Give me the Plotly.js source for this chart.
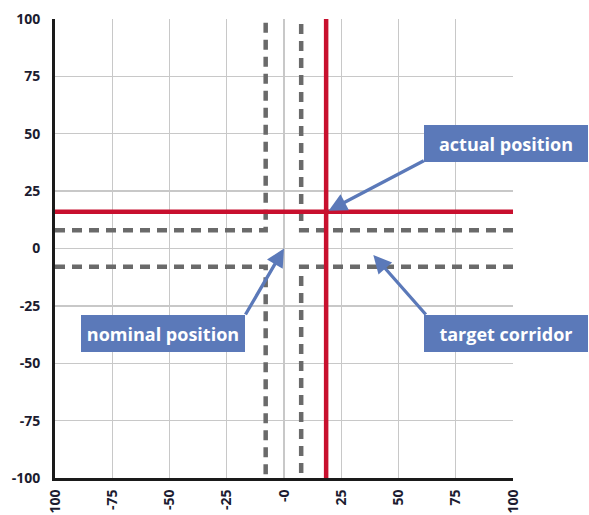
<!DOCTYPE html>
<html>
<head>
<meta charset="utf-8">
<script src="https://cdn.plot.ly/plotly-3.0.1.min.js"></script>
<style>
  html, body { margin: 0; padding: 0; background: #ffffff; }
  #chart { width: 589px; height: 515px; }
</style>
</head>
<body>
<div id="chart"></div>
<script>
// ---- data ----
const axisMin = -100;
const axisMax = 100;
const xTickVals = [-100, -75, -50, -25, 0, 25, 50, 75, 100];
const xTickText = ['100', '-75', '-50', '-25', '-0', '25', '50', '75', '100'];
const yTickVals = [-100, -75, -50, -25, 0, 25, 50, 75, 100];
const yTickText = ['-100', '-75', '-50', '-25', '0', '25', '50', '75', '100'];
const actualX = [18.4];
const actualY = [16];
const nominalX = [0];
const nominalY = [0];
const corridorXLow = -8;
const corridorXHigh = 7.5;
const corridorYLow = -8;
const corridorYHigh = 8;
const labelTexts = ['actual position', 'nominal position', 'target corridor'];

// ---- styles ----
const gray = '#6a6a6a';
const red = '#c8102e';
const blue = '#5b79b9';
const dashStyle = '10px,7px';

function dashed(xs, ys) {
  return { x: xs, y: ys, type: 'scatter', mode: 'lines', hoverinfo: 'skip',
           line: { color: gray, width: 4.5, dash: dashStyle }, showlegend: false };
}

const traces = [
  dashed([axisMin, corridorXLow, corridorXLow], [corridorYHigh, corridorYHigh, axisMax]),
  dashed([axisMax, corridorXHigh, corridorXHigh], [corridorYHigh, corridorYHigh, axisMax]),
  dashed([axisMin, corridorXLow, corridorXLow], [corridorYLow, corridorYLow, axisMin]),
  dashed([axisMax, corridorXHigh, corridorXHigh], [corridorYLow, corridorYLow, axisMin]),
  { x: [axisMin, axisMax], y: [actualY[0], actualY[0]], type: 'scatter', mode: 'lines',
    line: { color: red, width: 4.5 }, showlegend: false, hoverinfo: 'skip' },
  { x: [actualX[0], actualX[0]], y: [axisMin, axisMax], type: 'scatter', mode: 'lines',
    line: { color: red, width: 4.5 }, showlegend: false, hoverinfo: 'skip' }
];

const tickFont = { family: 'Open Sans, sans-serif', size: 14, color: '#1c1c30', weight: 'bold' };
const boxFont = { family: 'Open Sans, sans-serif', size: 18, color: '#ffffff', weight: 'bold' };

function arrow(tipX, tipY, tailX, tailY) {
  return { x: tipX, y: tipY, ax: tailX, ay: tailY, xref: 'x', yref: 'y', axref: 'x', ayref: 'y',
           text: '', showarrow: true, arrowhead: 2, arrowsize: 1.1, arrowwidth: 3.3,
           arrowcolor: blue, standoff: 0, startstandoff: 0 };
}
function box(text, x, y) {
  return { x: x, y: y, xref: 'x', yref: 'y', xanchor: 'left', yanchor: 'top',
           text: text, showarrow: false, bgcolor: blue, font: boxFont,
           width: 164, height: 37, borderpad: 0, borderwidth: 0, align: 'center', valign: 'middle' };
}

const layout = {
  width: 589, height: 515,
  margin: { l: 55, r: 76, t: 19, b: 37 },
  paper_bgcolor: '#ffffff', plot_bgcolor: '#ffffff',
  showlegend: false,
  xaxis: {
    range: [axisMin, axisMax], tickvals: xTickVals, ticktext: xTickText, tickangle: -90,
    showgrid: true, gridcolor: '#c8c8c8', gridwidth: 1.3, zeroline: false,
    showline: true, linecolor: '#1a1a1a', linewidth: 3,
    ticks: 'outside', ticklen: 3, tickcolor: 'rgba(0,0,0,0)', tickfont: tickFont, fixedrange: true
  },
  yaxis: {
    range: [axisMin, axisMax], tickvals: yTickVals, ticktext: yTickText,
    showgrid: true, gridcolor: '#c8c8c8', gridwidth: 1.3, zeroline: false,
    showline: true, linecolor: '#1a1a1a', linewidth: 3,
    ticks: 'outside', ticklen: 9, tickcolor: 'rgba(0,0,0,0)', tickfont: tickFont, fixedrange: true
  },
  annotations: [
    arrow(actualX[0] + 1.1, actualY[0] + 0.5, 61.7, 38.6),
    arrow(nominalX[0], nominalY[0], -17.2, -29.4),
    arrow(39, -2.8, 62.5, -29.4),
    box(labelTexts[0], 61.2, 53.8),
    box(labelTexts[1], -88.8, -29.0),
    box(labelTexts[2], 61.2, -29.0)
  ]
};

Plotly.newPlot('chart', traces, layout, { displayModeBar: false, staticPlot: true });
</script>
</body>
</html>
